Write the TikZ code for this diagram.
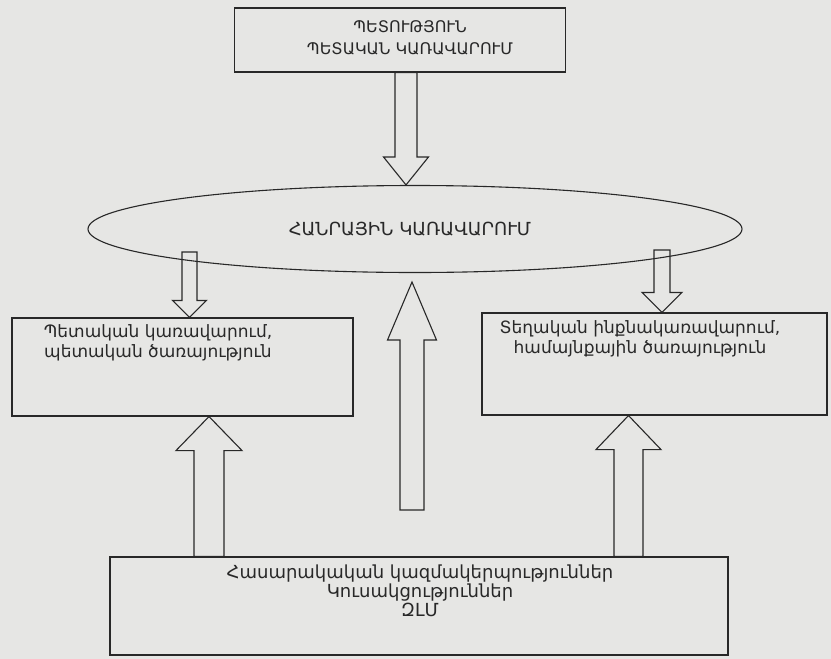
\documentclass[tikz,border=0pt]{standalone}
\usepackage{fontspec}
\setmainfont{DejaVu Sans}
\usetikzlibrary{shapes.geometric,calc}

\definecolor{paper}{RGB}{230,230,228}
\definecolor{ink}{RGB}{40,40,40}

% hollow vertical arrow: x, from, to, half shaft, half head, head length
\newcommand{\blockarrow}[6]{%
  \draw[barrow] let \p1=(#2), \p2=(#3), \n1={ifthenelse(\y2>\y1,1,-1)*#6pt} in
    (#1pt-#4pt,\y1) -- (#1pt-#4pt,\y2-\n1) -- (#1pt-#5pt,\y2-\n1) -- (#1pt,\y2)
    -- (#1pt+#5pt,\y2-\n1) -- (#1pt+#4pt,\y2-\n1) -- (#1pt+#4pt,\y1) -- cycle;}

\begin{document}
\begin{tikzpicture}[x=1pt,y=-1pt,
  box/.style={draw=ink,line width=1.1pt,rectangle,inner sep=0pt},
  lbl/.style={text=ink,align=center,inner sep=0pt,font=\fontsize{17}{20}\selectfont},
  barrow/.style={draw=ink,line width=1.1pt,line join=miter}]
\fill[paper] (0,0) rectangle (831,659);
\useasboundingbox (0,0) rectangle (831,659);

\node[box,minimum width=331pt,minimum height=64pt] (state) at (400,40) {};
\node[lbl,font=\fontsize{16}{22}\selectfont] (statetxt) at (410,38) {ՊԵՏՈՒԹՅՈՒՆ\\ՊԵՏԱԿԱՆ ԿԱՌԱՎԱՐՈՒՄ};

\node[draw=ink,line width=1.1pt,ellipse,inner sep=0pt,minimum width=654pt,minimum height=87pt] (pubgov) at (415,229) {};
\node[lbl,font=\fontsize{18}{18}\selectfont] (pubgovtxt) at (410,229) {ՀԱՆՐԱՅԻՆ ԿԱՌԱՎԱՐՈՒՄ};

\node[box,minimum width=341pt,minimum height=98pt] (lbox) at (182.5,367) {};
\node[lbl] (lboxtxt) at (158,343) {Պետական կառավարում,\\պետական ծառայություն};

\node[box,minimum width=345pt,minimum height=102pt] (rbox) at (654.5,364) {};
\node[lbl] (rboxtxt) at (640,339) {Տեղական ինքնակառավարում,\\համայնքային ծառայություն};

\node[box,minimum width=618pt,minimum height=98pt] (bbox) at (419,606) {};
\node[lbl,font=\fontsize{18}{19}\selectfont] (bboxtxt) at (420,591) {Հասարակական կազմակերպություններ\\Կուսակցություններ\\ԶԼՄ};

\coordinate (lstart) at (189.5,252);
\coordinate (rstart) at (662,250);
\coordinate (cbot) at (412,510);
\coordinate (ctip) at (412,282);

\blockarrow{406}{state.south}{pubgov.north}{11}{22.5}{28}
\blockarrow{189.5}{lstart}{lbox.north}{7.5}{17}{17}
\blockarrow{662}{rstart}{rbox.north}{8}{20}{20}
\blockarrow{412}{cbot}{ctip}{12}{24.5}{58}
\blockarrow{209}{bbox.north}{lbox.south}{15}{33}{34}
\blockarrow{628.5}{bbox.north}{rbox.south}{14.5}{32.5}{34}
\end{tikzpicture}
\end{document}
